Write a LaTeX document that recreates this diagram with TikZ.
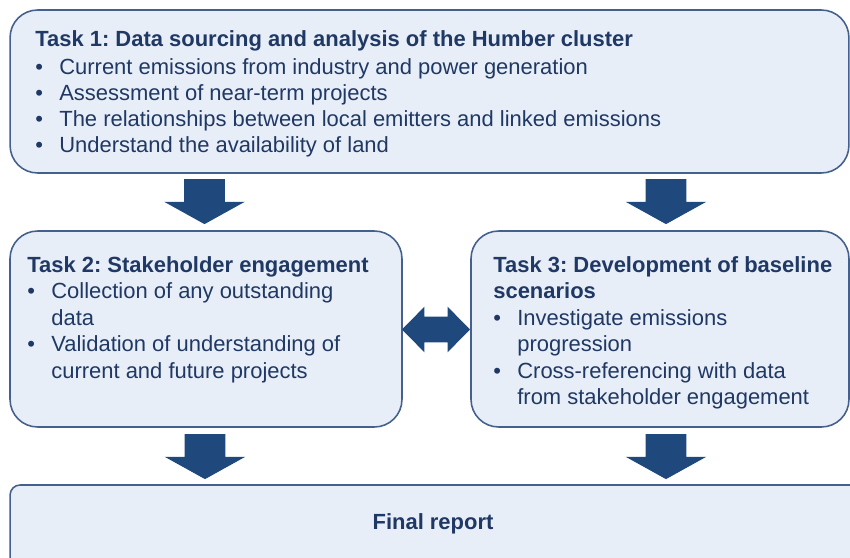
\documentclass[tikz,border=0pt]{standalone}
\usepackage{fontspec}
\setmainfont{Liberation Sans}
\usetikzlibrary{shapes.arrows}

\definecolor{boxfill}{RGB}{232,238,248}
\definecolor{boxline}{RGB}{68,96,140}
\definecolor{arrowblue}{RGB}{31,73,125}
\definecolor{textnavy}{RGB}{31,56,100}
\newcommand\bul{\makebox[0.48cm][l]{\textbullet}}
\frenchspacing

\begin{document}
\begin{tikzpicture}[x=0.02cm,y=-0.02cm,
  taskbox/.style={draw=boxline,line width=0.9pt,fill=boxfill,rounded corners=0.55cm,inner sep=0pt},
  tasktext/.style={anchor=north west,align=left,inner sep=0pt,text=textnavy,font=\fontsize{12.5}{15.1}\selectfont},
  downarrow/.style={single arrow,fill=arrowblue,shape border rotate=270,inner xsep=0.4cm,inner ysep=0pt,
    minimum height=0.9cm,minimum width=1.6cm,single arrow head extend=0.4cm,single arrow tip angle=122},
  botharrow/.style={double arrow,fill=arrowblue,inner xsep=0pt,inner ysep=0.25cm,
    minimum height=1.36cm,minimum width=0.9cm,double arrow head extend=0.2cm,double arrow tip angle=91}]
\useasboundingbox (0,0) rectangle (850,558);
\clip (0,0) rectangle (850,558);

% boxes
\node[taskbox,minimum width=16.78cm,minimum height=3.26cm] (task1) at (429.5,91.5) {};
\node[taskbox,minimum width=7.84cm,minimum height=3.92cm] (task2) at (206,329) {};
\node[taskbox,minimum width=7.56cm,minimum height=3.92cm] (task3) at (660,329) {};
\node[taskbox,rounded corners=0.2cm,minimum width=17.4cm,minimum height=2.7cm] (final) at (445,552.5) {};

% texts
\node[tasktext,font=\fontsize{12.5}{14.8}\selectfont] (text1) at (35,30) {\textbf{Task 1: Data sourcing and analysis of the Humber cluster}\\[0.04cm]
\bul Current emissions from industry and power generation\\
\bul Assessment of near-term projects\\
\bul The relationships between local emitters and linked emissions\\
\bul Understand the availability of land};
\node[tasktext] (text2) at (27,256) {\textbf{Task 2: Stakeholder engagement}\\
\bul Collection of any outstanding\\
\hspace*{0.48cm}data\\
\bul Validation of understanding of\\
\hspace*{0.48cm}current and future projects};
\node[tasktext] (text3) at (493,256) {\textbf{Task 3: Development of baseline}\\
\textbf{scenarios}\\
\bul Investigate emissions\\
\hspace*{0.48cm}progression\\
\bul Cross-referencing with data\\
\hspace*{0.48cm}from stakeholder engagement};
\node[text=textnavy,font=\fontsize{12.5}{15.1}\selectfont\bfseries,inner sep=0pt] (finaltext) at (433,524) {Final report};

% arrows
\node[downarrow] (a12) at (204.5,196) {};
\node[downarrow] (a13) at (666,196) {};
\node[downarrow] (a2f) at (205,451) {};
\node[downarrow] (a3f) at (666,451) {};
\node[botharrow] (a23) at (436,329.5) {};
\end{tikzpicture}
\end{document}
